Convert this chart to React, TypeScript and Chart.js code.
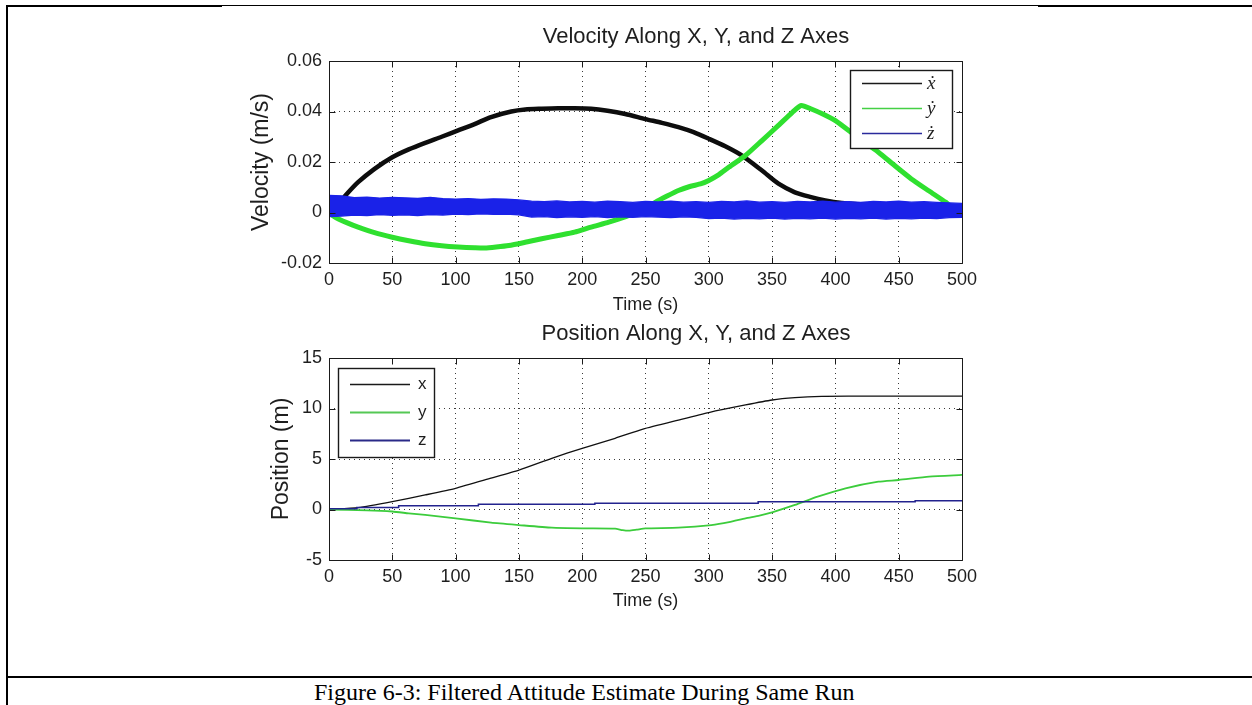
import React, { useEffect, useRef } from "react";
import { Chart, registerables } from "chart.js";

Chart.register(...registerables);

const SANS = "'Liberation Sans', Arial, Helvetica, sans-serif";
const SERIF = "'Liberation Serif', 'Times New Roman', 'DejaVu Serif', serif";
const TEXT = "#1e1e1e";
const GRID = "#3a3a3a";

// ---------------- data ----------------
const TIME_TICKS = [0, 50, 100, 150, 200, 250, 300, 350, 400, 450, 500];
const TIME_TICK_LABELS = ["0", "50", "100", "150", "200", "250", "300", "350", "400", "450", "500"];
const VEL_TICKS = [-0.02, 0, 0.02, 0.04, 0.06];
const VEL_TICK_LABELS = ["-0.02", "0", "0.02", "0.04", "0.06"];
const POS_TICKS = [-5, 0, 5, 10, 15];
const POS_TICK_LABELS = ["-5", "0", "5", "10", "15"];

const VEL_LEGEND = ["ẋ", "ẏ", "ż"];
const POS_LEGEND = ["x", "y", "z"];

// velocity x-dot
const VX_T = [0, 8, 13, 23, 36, 50, 63, 76, 89, 102, 115, 128, 144, 155, 168, 181, 194, 207, 220, 234, 250, 263, 276, 288, 300, 313, 326, 342, 355, 368, 380, 392, 405, 420, 450, 500];
const VX_V = [0.0005, 0.0035, 0.0067, 0.012, 0.0173, 0.0219, 0.025, 0.0276, 0.03, 0.0325, 0.035, 0.0378, 0.04, 0.0408, 0.0411, 0.0413, 0.0413, 0.0411, 0.0403, 0.039, 0.037, 0.0355, 0.0338, 0.0318, 0.0292, 0.0262, 0.0226, 0.0166, 0.0114, 0.008, 0.0062, 0.0048, 0.0038, 0.0032, 0.0026, 0.0024];

// velocity y-dot
const VY_T = [0, 5, 14, 23, 36, 50, 63, 76, 89, 102, 115, 123, 132, 142, 155, 168, 181, 194, 207, 221, 235, 250, 258, 267, 276, 285, 294, 300, 308, 316, 329, 342, 355, 366, 373, 381, 390, 400, 417, 434, 447, 460, 474, 487, 492, 500];
const VY_V = [0, -0.0019, -0.004, -0.0058, -0.008, -0.0098, -0.0112, -0.0124, -0.0132, -0.0137, -0.014, -0.0141, -0.0137, -0.0131, -0.0118, -0.0104, -0.0091, -0.0078, -0.0058, -0.0038, -0.0015, 0.0012, 0.0041, 0.0065, 0.0087, 0.0103, 0.0114, 0.0127, 0.015, 0.018, 0.0226, 0.0285, 0.0345, 0.0397, 0.0424, 0.041, 0.039, 0.0364, 0.03, 0.0239, 0.0185, 0.0133, 0.0085, 0.0041, 0.0022, 0.002];

// velocity z-dot: noisy band, read as its upper and lower envelope
const VZ_T = [0, 10, 20, 30, 40, 50, 60, 70, 80, 90, 100, 110, 120, 130, 140, 150, 160, 170, 180, 190, 200, 210, 220, 230, 240, 250, 260, 270, 280, 290, 300, 310, 320, 330, 340, 350, 360, 370, 380, 390, 400, 410, 420, 430, 440, 450, 460, 470, 480, 490, 500];
const VZ_UPPER = [0.0068, 0.0066, 0.0059, 0.0061, 0.0057, 0.006, 0.0058, 0.0056, 0.006, 0.0055, 0.0053, 0.0055, 0.0052, 0.0054, 0.0053, 0.005, 0.0045, 0.0043, 0.0046, 0.0042, 0.0044, 0.0041, 0.0045, 0.0043, 0.004, 0.0044, 0.0042, 0.0045, 0.0041, 0.0043, 0.004, 0.0044, 0.0042, 0.0046, 0.0041, 0.0043, 0.004, 0.0044, 0.0042, 0.0045, 0.0041, 0.0043, 0.004, 0.0044, 0.0042, 0.0045, 0.0041, 0.0043, 0.004, 0.0038, 0.0036];
const VZ_LOWER = [-0.0016, -0.0014, -0.001, -0.0012, -0.0008, -0.0011, -0.0009, -0.0012, -0.0008, -0.001, -0.0006, -0.0008, -0.0005, -0.0007, -0.0006, -0.0009, -0.0018, -0.0016, -0.002, -0.0017, -0.0019, -0.0016, -0.002, -0.0017, -0.0019, -0.0016, -0.0018, -0.002, -0.0017, -0.0019, -0.0024, -0.0022, -0.0026, -0.0023, -0.0025, -0.0022, -0.0026, -0.0023, -0.0025, -0.0022, -0.0026, -0.0023, -0.0025, -0.0022, -0.0026, -0.0023, -0.0025, -0.0022, -0.0024, -0.002, -0.0019];

// position x
const PX_T = [0, 23, 50, 76, 100, 128, 150, 176, 200, 226, 248, 276, 300, 329, 350, 368, 389, 410, 500];
const PX_V = [0, 0.18, 0.77, 1.44, 2.1, 3.1, 3.9, 5.07, 6.06, 7.05, 7.97, 8.86, 9.6, 10.35, 10.84, 11.07, 11.2, 11.22, 11.22];

// position y
const PY_T = [0, 30, 50, 63, 76, 100, 128, 150, 176, 200, 226, 232, 237, 243, 250, 276, 302, 316, 329, 340, 350, 368, 386, 408, 434, 450, 474, 500];
const PY_V = [0, -0.08, -0.2, -0.38, -0.54, -0.87, -1.3, -1.54, -1.8, -1.87, -1.9, -2.05, -2.1, -2.0, -1.87, -1.8, -1.54, -1.25, -0.87, -0.6, -0.28, 0.45, 1.27, 2.1, 2.75, 2.92, 3.25, 3.42];

// position z (steps)
const PZ_T = [0, 22, 55, 118, 210, 339, 463, 500];
const PZ_V = [0.08, 0.2, 0.37, 0.51, 0.61, 0.77, 0.87, 0.87];

const pts = (t: number[], v: number[]) => t.map((x, i) => ({ x, y: v[i] }));

// ---------------- helpers ----------------
type LegendSpec = {
  labels: string[];
  colors: string[];
  widths: number[];
  font: string;
  anchor: "left" | "right";
  dx: number;
  dy: number;
  w: number;
  h: number;
  rows: number[];
  lineX0: number;
  lineX1: number;
  textX: number;
};

const axesPlugin = (spec: LegendSpec) => ({
  id: "matlabAxes",
  afterDraw(chart: any) {
    const { ctx, chartArea: a } = chart;
    const xs = chart.scales.x;
    const ys = chart.scales.y;
    ctx.save();
    ctx.setLineDash([]);
    ctx.strokeStyle = "#1a1a1a";
    ctx.lineWidth = 1;
    const L = Math.round(a.left) + 0.5;
    const R = Math.round(a.right) + 0.5;
    const T = Math.round(a.top) + 0.5;
    const B = Math.round(a.bottom) + 0.5;
    ctx.beginPath();
    ctx.rect(L, T, R - L, B - T);
    ctx.stroke();
    const TL = 6;
    ctx.beginPath();
    xs.ticks.forEach((t: any) => {
      const p = Math.round(xs.getPixelForValue(t.value)) + 0.5;
      ctx.moveTo(p, B);
      ctx.lineTo(p, B - TL);
      ctx.moveTo(p, T);
      ctx.lineTo(p, T + TL);
    });
    ys.ticks.forEach((t: any) => {
      const p = Math.round(ys.getPixelForValue(t.value)) + 0.5;
      ctx.moveTo(L, p);
      ctx.lineTo(L + TL, p);
      ctx.moveTo(R, p);
      ctx.lineTo(R - TL, p);
    });
    ctx.stroke();

    // legend
    const bx = spec.anchor === "left" ? Math.round(a.left) + spec.dx : Math.round(a.right) - spec.dx - spec.w;
    const by = Math.round(a.top) + spec.dy;
    ctx.fillStyle = "#ffffff";
    ctx.fillRect(bx, by, spec.w, spec.h);
    ctx.lineWidth = 1.4;
    ctx.strokeStyle = "#1a1a1a";
    ctx.strokeRect(bx + 0.5, by + 0.5, spec.w, spec.h);
    spec.labels.forEach((lab, i) => {
      const y = by + spec.rows[i] + 0.5;
      ctx.strokeStyle = spec.colors[i];
      ctx.lineWidth = spec.widths[i];
      ctx.beginPath();
      ctx.moveTo(bx + spec.lineX0, y);
      ctx.lineTo(bx + spec.lineX1, y);
      ctx.stroke();
      ctx.fillStyle = TEXT;
      ctx.font = spec.font;
      ctx.textAlign = "left";
      ctx.textBaseline = "middle";
      ctx.fillText(lab, bx + spec.textX, y);
    });
    ctx.restore();
  },
});

function timeAxis(axisH: number, titlePadBottom: number) {
  return {
    type: "linear",
    position: "bottom",
    min: 0,
    max: 500,
    afterBuildTicks: (s: any) => {
      s.ticks = TIME_TICKS.map((v) => ({ value: v }));
    },
    afterFit: (s: any) => {
      s.height = axisH;
    },
    ticks: {
      autoSkip: false,
      maxRotation: 0,
      padding: 6,
      color: TEXT,
      font: { family: SANS, size: 18 },
      callback: (_v: any, i: number) => TIME_TICK_LABELS[i],
    },
    grid: { color: GRID, lineWidth: 1, drawTicks: false },
    border: { display: false, dash: [1, 4] },
    title: {
      display: true,
      text: "Time (s)",
      color: TEXT,
      font: { family: SANS, size: 18 },
      padding: { top: 0, bottom: titlePadBottom },
    },
  };
}

function valueAxis(ticks: number[], labels: string[], title: string, titlePadTop: number) {
  return {
    type: "linear",
    position: "left",
    min: ticks[0],
    max: ticks[ticks.length - 1],
    afterBuildTicks: (s: any) => {
      s.ticks = ticks.map((v) => ({ value: v }));
    },
    afterFit: (s: any) => {
      s.width = 329;
    },
    ticks: {
      autoSkip: false,
      padding: 7,
      color: TEXT,
      font: { family: SANS, size: 18 },
      callback: (_v: any, i: number) => labels[i],
    },
    grid: { color: GRID, lineWidth: 1, drawTicks: false },
    border: { display: false, dash: [1, 4] },
    title: {
      display: true,
      text: title,
      color: TEXT,
      font: { family: SANS, size: 23 },
      padding: { top: titlePadTop, bottom: 0 },
    },
  };
}

const spacerAxis = {
  type: "linear",
  position: "right",
  display: true,
  afterFit: (s: any) => {
    s.width = 430;
  },
  ticks: { display: false },
  grid: { display: false },
  border: { display: false },
};

const CANVAS_W = 1392;
const BLUE = "#1a22e8";

function velocityConfig(): any {
  return {
    type: "line",
    data: {
      datasets: [
        { label: VEL_LEGEND[0], order: 3, data: pts(VX_T, VX_V), borderColor: "#0d0d0d", borderWidth: 4.5, tension: 0.25, pointRadius: 0, fill: false },
        { label: VEL_LEGEND[1], order: 2, data: pts(VY_T, VY_V), borderColor: "#2fe02f", borderWidth: 5, tension: 0.2, pointRadius: 0, fill: false },
        { label: "z upper", order: 0, data: pts(VZ_T, VZ_UPPER), borderColor: BLUE, borderWidth: 1.3, pointRadius: 0, fill: false },
        { label: VEL_LEGEND[2], order: 1, data: pts(VZ_T, VZ_LOWER), borderColor: BLUE, backgroundColor: BLUE, borderWidth: 1.3, pointRadius: 0, fill: "-1" },
      ],
    },
    options: {
      responsive: false,
      maintainAspectRatio: false,
      animation: false,
      events: [],
      layout: { padding: { left: 0, right: 0, top: 0, bottom: 2 } },
      plugins: {
        legend: { display: false },
        tooltip: { enabled: false },
        title: {
          display: true,
          text: "Velocity Along X, Y, and Z Axes",
          color: TEXT,
          font: { family: SANS, size: 22, weight: "normal" },
          padding: { top: 23.8, bottom: 10.8 },
        },
      },
      scales: {
        x: timeAxis(55, 2.2),
        y: valueAxis(VEL_TICKS, VEL_TICK_LABELS, "Velocity (m/s)", 248.2),
        y2: spacerAxis,
      },
    },
    plugins: [
      axesPlugin({
        labels: VEL_LEGEND,
        colors: ["#1a1a1a", "#44d044", "#2a2a9c"],
        widths: [1.5, 1.5, 1.5],
        font: `italic 19px ${SERIF}`,
        anchor: "right",
        dx: 10,
        dy: 9,
        w: 102,
        h: 78,
        rows: [13, 38, 63],
        lineX0: 12,
        lineX1: 72,
        textX: 77,
      }),
    ],
  };
}

function positionConfig(): any {
  return {
    type: "line",
    data: {
      datasets: [
        { label: POS_LEGEND[0], order: 2, data: pts(PX_T, PX_V), borderColor: "#111111", borderWidth: 1.3, tension: 0.2, pointRadius: 0, fill: false },
        { label: POS_LEGEND[1], order: 1, data: pts(PY_T, PY_V), borderColor: "#3ccc3c", borderWidth: 1.8, tension: 0.2, pointRadius: 0, fill: false },
        { label: POS_LEGEND[2], order: 0, data: pts(PZ_T, PZ_V), borderColor: "#22228e", borderWidth: 1.5, stepped: true, pointRadius: 0, fill: false },
      ],
    },
    options: {
      responsive: false,
      maintainAspectRatio: false,
      animation: false,
      events: [],
      layout: { padding: { left: 0, right: 0, top: 0, bottom: 6 } },
      plugins: {
        legend: { display: false },
        tooltip: { enabled: false },
        title: {
          display: true,
          text: "Position Along X, Y, and Z Axes",
          color: TEXT,
          font: { family: SANS, size: 22, weight: "normal" },
          padding: { top: 0.8, bottom: 10.8 },
        },
      },
      scales: {
        x: timeAxis(54, 2.2),
        y: valueAxis(POS_TICKS, POS_TICK_LABELS, "Position (m)", 268.2),
        y2: spacerAxis,
      },
    },
    plugins: [
      axesPlugin({
        labels: POS_LEGEND,
        colors: ["#1a1a1a", "#55c855", "#2a2a88"],
        widths: [1.5, 2, 2],
        font: `17px ${SANS}`,
        anchor: "left",
        dx: 9,
        dy: 10,
        w: 96,
        h: 89,
        rows: [16, 44, 72],
        lineX0: 12,
        lineX1: 72,
        textX: 80,
      }),
    ],
  };
}

function ChartCanvas({ makeConfig, top, height }: { makeConfig: () => any; top: number; height: number }) {
  const ref = useRef<HTMLCanvasElement | null>(null);
  useEffect(() => {
    if (!ref.current) return;
    const chart = new Chart(ref.current, makeConfig());
    return () => chart.destroy();
  }, []);
  return (
    <canvas
      ref={ref}
      width={CANVAS_W}
      height={height}
      style={{ position: "absolute", left: 0, top, width: CANVAS_W, height, display: "block" }}
    />
  );
}

const line = (left: number, top: number, width: number, height: number) => (
  <div style={{ position: "absolute", left, top, width, height, background: "#000" }} />
);

export default function App() {
  return (
    <div
      style={{
        position: "absolute",
        left: 0,
        top: 0,
        width: 1252,
        height: 705,
        overflow: "hidden",
        background: "#fff",
      }}
    >
      <ChartCanvas makeConfig={velocityConfig} top={0} height={320} />
      <ChartCanvas makeConfig={positionConfig} top={320} height={300} />
      {line(6, 5, 216, 2)}
      {line(222, 5, 816, 1)}
      {line(1038, 5, 214, 2)}
      {line(6, 5, 2, 700)}
      {line(6, 676, 1246, 2)}
      <div
        style={{
          position: "absolute",
          left: 314,
          top: 680,
          fontFamily: SERIF,
          fontSize: 24,
          lineHeight: "24px",
          color: "#000",
          whiteSpace: "nowrap",
        }}
      >
        Figure 6-3: Filtered Attitude Estimate During Same Run
      </div>
    </div>
  );
}
